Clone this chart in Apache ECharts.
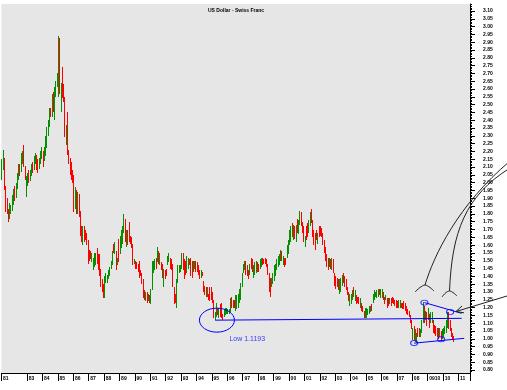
<!DOCTYPE html>
<html><head><meta charset="utf-8">
<script src="https://cdn.jsdelivr.net/npm/echarts@6/dist/echarts.min.js"></script>
<style>html,body{margin:0;padding:0;background:#fff}#c{width:507px;height:390px}</style>
</head><body><div id="c"></div>
<script>
// ---- monthly bars, May 1981 .. Sep 2010 ----
const lows = [
/*1981*/ 2.02,2.08,1.95,1.81,1.80,1.75,1.77,1.80,
/*1982*/ 1.82,1.86,1.88,1.90,1.96,2.02,2.04,2.07,2.12,2.10,2.02,1.91,
/*1983*/ 1.98,2.00,2.01,2.04,2.06,2.08,2.12,2.08,2.06,2.09,2.12,2.15,
/*1984*/ 2.10,2.14,2.17,2.22,2.30,2.36,2.42,2.42,2.45,2.40,2.55,2.61,
/*1985*/ 2.55,2.57,2.45,2.54,2.52,2.29,2.24,2.18,2.12,2.05,2.02,2.00,
/*1986*/ 1.81,1.83,1.80,1.80,1.78,1.66,1.62,1.60,1.62,1.63,1.60,1.48,
/*1987*/ 1.50,1.51,1.49,1.44,1.46,1.47,1.48,1.44,1.40,1.33,1.30,1.26,
/*1988*/ 1.26,1.36,1.36,1.38,1.40,1.45,1.47,1.55,1.54,1.44,1.47,1.49,
/*1989*/ 1.54,1.58,1.61,1.68,1.62,1.59,1.60,1.62,1.61,1.58,1.47,1.48,
/*1990*/ 1.45,1.45,1.43,1.39,1.40,1.35,1.26,1.25,1.24,1.23,1.24,1.23,
/*1991*/ 1.22,1.31,1.42,1.44,1.45,1.49,1.48,1.47,1.44,1.39,1.33,1.38,
/*1992*/ 1.40,1.47,1.49,1.45,1.44,1.33,1.22,1.23,1.20,1.36,1.42,1.43,
/*1993*/ 1.45,1.44,1.38,1.41,1.42,1.45,1.47,1.40,1.39,1.43,1.45,1.43,
/*1994*/ 1.43,1.41,1.38,1.39,1.40,1.30,1.28,1.27,1.27,1.25,1.24,1.25,
/*1995*/ 1.23,1.13,1.1193,1.14,1.15,1.13,1.14,1.13,1.12,1.14,1.15,1.16,
/*1996*/ 1.16,1.16,1.17,1.20,1.20,1.20,1.18,1.19,1.20,1.23,1.25,1.33,
/*1997*/ 1.42,1.44,1.41,1.40,1.38,1.41,1.45,1.43,1.39,1.41,1.42,1.43,
/*1998*/ 1.43,1.45,1.46,1.47,1.48,1.48,1.46,1.41,1.30,1.27,1.33,1.35,
/*1999*/ 1.37,1.40,1.44,1.46,1.47,1.50,1.50,1.47,1.46,1.47,1.52,1.54,
/*2000*/ 1.60,1.62,1.65,1.63,1.64,1.62,1.68,1.67,1.73,1.72,1.68,1.62,
/*2001*/ 1.59,1.63,1.65,1.68,1.72,1.74,1.65,1.60,1.57,1.63,1.61,1.65,
/*2002*/ 1.66,1.65,1.60,1.55,1.50,1.46,1.44,1.46,1.45,1.44,1.42,1.34,
/*2003*/ 1.32,1.33,1.31,1.29,1.30,1.34,1.36,1.33,1.31,1.28,1.24,1.21,
/*2004*/ 1.22,1.25,1.27,1.24,1.22,1.23,1.22,1.20,1.18,1.17,1.13,1.13,
/*2005*/ 1.13,1.15,1.16,1.17,1.18,1.23,1.25,1.27,1.26,1.27,1.28,1.26,
/*2006*/ 1.26,1.25,1.22,1.25,1.20,1.21,1.22,1.21,1.23,1.22,1.21,1.20,
/*2007*/ 1.20,1.20,1.20,1.20,1.19,1.19,1.18,1.16,1.15,1.14,1.10,1.06,
/*2008*/ 0.99,0.99,0.98,0.97,1.01,1.01,1.01,1.04,1.10,1.10,1.12,1.08,
/*2009*/ 1.12,1.07,1.10,1.10,1.04,1.03,1.02,1.01,1.00,1.01,0.99,1.00,
/*2010*/ 1.01,1.03,1.04,1.07,1.06,1.05,1.01,0.99,0.98
];
const highs = [
/*1981*/ 2.15,2.21,2.16,1.98,1.90,1.83,1.87,1.86,
/*1982*/ 1.92,1.96,1.98,2.00,2.06,2.12,2.12,2.19,2.20,2.24,2.11,2.04,
/*1983*/ 2.06,2.08,2.08,2.12,2.13,2.17,2.19,2.18,2.15,2.16,2.20,2.23,
/*1984*/ 2.20,2.23,2.30,2.36,2.40,2.48,2.48,2.57,2.58,2.61,2.65,2.70,
/*1985*/ 2.94,2.93,2.64,2.74,2.63,2.55,2.37,2.45,2.21,2.16,2.13,2.08,
/*1986*/ 2.05,1.97,1.95,1.94,1.93,1.82,1.72,1.72,1.72,1.70,1.68,1.63,
/*1987*/ 1.57,1.56,1.55,1.52,1.55,1.55,1.58,1.54,1.54,1.45,1.38,1.35,
/*1988*/ 1.40,1.42,1.41,1.44,1.46,1.50,1.56,1.61,1.62,1.56,1.52,1.64,
/*1989*/ 1.66,1.70,1.72,1.80,1.77,1.70,1.70,1.75,1.66,1.65,1.61,1.51,
/*1990*/ 1.50,1.49,1.48,1.50,1.44,1.42,1.38,1.31,1.30,1.30,1.29,1.28,
/*1991*/ 1.32,1.50,1.50,1.51,1.52,1.59,1.56,1.55,1.49,1.48,1.45,1.44,
/*1992*/ 1.45,1.53,1.55,1.52,1.51,1.48,1.33,1.29,1.38,1.47,1.47,1.47,
/*1993*/ 1.55,1.55,1.51,1.50,1.53,1.52,1.51,1.52,1.50,1.50,1.50,1.50,
/*1994*/ 1.49,1.47,1.44,1.44,1.43,1.37,1.34,1.33,1.33,1.29,1.33,1.33,
/*1995*/ 1.30,1.25,1.17,1.23,1.20,1.20,1.22,1.23,1.16,1.19,1.20,1.20,
/*1996*/ 1.19,1.19,1.26,1.27,1.25,1.25,1.28,1.28,1.29,1.32,1.36,1.42,
/*1997*/ 1.48,1.50,1.50,1.47,1.44,1.48,1.52,1.51,1.47,1.49,1.50,1.49,
/*1998*/ 1.48,1.51,1.52,1.52,1.51,1.52,1.51,1.48,1.42,1.39,1.39,1.42,
/*1999*/ 1.47,1.48,1.51,1.53,1.54,1.57,1.56,1.53,1.52,1.52,1.60,1.63,
/*2000*/ 1.70,1.72,1.74,1.73,1.72,1.73,1.77,1.76,1.82,1.81,1.75,1.72,
/*2001*/ 1.66,1.72,1.74,1.76,1.81,1.83,1.76,1.70,1.68,1.70,1.68,1.72,
/*2002*/ 1.72,1.71,1.68,1.63,1.59,1.54,1.52,1.52,1.51,1.52,1.51,1.42,
/*2003*/ 1.40,1.39,1.38,1.38,1.39,1.41,1.42,1.40,1.38,1.33,1.30,1.29,
/*2004*/ 1.29,1.31,1.33,1.31,1.28,1.27,1.27,1.26,1.23,1.21,1.18,1.20,
/*2005*/ 1.20,1.19,1.21,1.21,1.22,1.29,1.31,1.30,1.31,1.32,1.32,1.32,
/*2006*/ 1.32,1.30,1.27,1.28,1.26,1.26,1.26,1.26,1.27,1.26,1.25,1.25,
/*2007*/ 1.24,1.25,1.25,1.23,1.23,1.24,1.23,1.21,1.19,1.18,1.15,1.12,
/*2008*/ 1.07,1.08,1.06,1.04,1.07,1.07,1.06,1.12,1.235,1.21,1.18,1.17,
/*2009*/ 1.20,1.16,1.17,1.17,1.12,1.09,1.08,1.07,1.07,1.07,1.05,1.06,
/*2010*/ 1.07,1.08,1.12,1.17,1.17,1.12,1.07,1.04,1.02
];
// g = closed up (green), r = closed down (red), one letter per month
const directions = [
 'ggrrrrgg','ggrgggrggrrg','grggrggrrggg','rgggggrgrggg','grgrrrgrrrrr',
 'rgrgrrrgrrrr','rrggggrrrrrr','gggggggrgrgr','ggggrgrrrrrg','rrrrrrrrgrgr',
 'ggggrgrgrrgr','rggrrrrrgggg','grrrggrrrggr','rrrgrrrrgrrr','rrggrgrrrggg',
 'gggrrrgggggg','ggrrrgrrgggr','rggrrrrrrrgg','ggggggrgrrgg','ggrgrgrggrrr',
 'grrggrrrrrgr','rrrrrrrgrgrr','rrrgggrrrrrg','ggrgrrrgrrrg','ggggrgggggrg',
 'grrgrrgrrrrr','rggrrrrrrrrr','grggrrgggrgr','grggrrrrrgrg','ggggrrrrr'
].join('');

// ---- axis labels ----
const yearLabelMonths = ['1981-05','1983-01','1984-01','1985-01','1986-01','1987-01','1988-01','1989-01','1990-01',
  '1991-01','1992-01','1993-01','1994-01','1995-01','1996-01','1997-01','1998-01','1999-01','2000-01','2001-01',
  '2002-01','2003-01','2004-01','2005-01','2006-01','2007-01','2008-01','2009-01','2010-01','2011-01'];
const yearLabels = ['81','83','84','85','86','87','88','89','90','91','92','93','94','95','96','97','98','99',
  '00','01','02','03','04','05','06','07','08','0910','10','11'];
const yTickLabels = ['0.80','0.85','0.90','0.95','1.00','1.05','1.10','1.15','1.20','1.25','1.30','1.35','1.40',
  '1.45','1.50','1.55','1.60','1.65','1.70','1.75','1.80','1.85','1.90','1.95','2.00','2.05','2.10','2.15','2.20',
  '2.25','2.30','2.35','2.40','2.45','2.50','2.55','2.60','2.65','2.70','2.75','2.80','2.85','2.90','2.95','3.00',
  '3.05','3.10'];

// ---- annotations (drawn in data coordinates) ----
const supportLine = [['1995-03', 1.1193], ['2011-03', 1.131]];
const upperLine = [['2008-10', 1.232], ['2011-03', 1.163]];
const lowerLine = [['2008-02', 0.972], ['2011-05', 1.003]];
const pivotPoints = [['2008-10', 1.232], ['2010-06', 1.172], ['2008-02', 0.973], ['2009-11', 0.997]];
const lowNote = { month: '1995-04', value: 1.1193, text: 'Low 1.1193' };

// ---- build ----
const months = [];
for (let y = 1981; y <= 2011; y++) for (let m = 1; m <= 12; m++) {
  if (y === 1981 && m < 5) continue;
  if (y === 2011 && m > 9) continue;
  months.push(y + '-' + (m < 10 ? '0' : '') + m);
}
const labelMap = new Map(yearLabelMonths.map((m, i) => [m, yearLabels[i]]));
const barData = lows.map((l, i) => [i, l, highs[i], directions[i] === 'g' ? 1 : 0]);
const majorVals = yTickLabels.map(Number);
const minorVals = [];
for (let k = 79; k <= 314; k++) minorVals.push(k / 100);

const GREEN = '#009000', RED = '#ff0000', BLUE = '#0000ff', INK = '#000';
const Y_MIN = 0.7808, Y_MAX = 3.1448;
const FONT = 'Liberation Sans';

// high-low bar, snapped to whole pixels like the original screen chart
function renderBar(params, api) {
  const top = api.coord([api.value(0), api.value(2)]);
  const bot = api.coord([api.value(0), api.value(1)]);
  const x = Math.floor(top[0]);
  const y0 = Math.round(top[1]);
  const y1 = Math.round(bot[1]);
  return { type: 'rect', shape: { x: x, y: y0, width: 1, height: Math.max(1, y1 - y0) },
    style: { fill: api.value(3) ? GREEN : RED } };
}

const chart = echarts.init(document.getElementById('c'), null, { renderer: 'canvas' });
chart.setOption({
  animation: false,
  backgroundColor: '#ffffff',
  title: { text: 'US Dollar - Swiss Franc', left: 208, top: 8, padding: 0,
    textStyle: { fontSize: 5, fontWeight: 'bold', color: INK, fontFamily: FONT } },
  grid: { left: 0, right: 37, top: 4, bottom: 17, show: true, backgroundColor: '#e6e6e6', borderWidth: 0 },
  xAxis: {
    type: 'category', data: months, boundaryGap: true,
    axisLine: { lineStyle: { color: INK, width: 1 } },
    axisTick: { show: true, length: 8, interval: (i, v) => labelMap.has(v), lineStyle: { color: INK } },
    axisLabel: { interval: (i, v) => labelMap.has(v), formatter: v => labelMap.get(v) || '',
      fontSize: 5, color: INK, align: 'left', margin: 3, padding: [0, 0, 0, 1], fontFamily: FONT, fontWeight: 'bold' },
    splitLine: { show: false }
  },
  yAxis: [
    { type: 'value', position: 'right', min: Y_MIN, max: Y_MAX,
      axisLine: { show: true, lineStyle: { color: INK } },
      axisTick: { show: true, length: 5, customValues: majorVals, lineStyle: { color: INK } },
      axisLabel: { customValues: majorVals, formatter: v => v.toFixed(2), fontSize: 5, color: INK, margin: 13,
        fontFamily: FONT, fontWeight: 'bold' },
      splitLine: { show: false } },
    { type: 'value', position: 'right', min: Y_MIN, max: Y_MAX,
      axisLine: { show: false },
      axisTick: { show: true, length: 2, customValues: minorVals, lineStyle: { color: INK } },
      axisLabel: { show: false }, splitLine: { show: false } }
  ],
  series: [
    { type: 'custom', data: barData, encode: { x: 0, y: [1, 2] }, renderItem: renderBar, clip: true, z: 3 },
    { type: 'line', data: supportLine, symbol: 'none', lineStyle: { color: BLUE, width: 1 }, z: 5 },
    { type: 'line', data: upperLine, symbol: 'none', lineStyle: { color: BLUE, width: 1 }, z: 5 },
    { type: 'line', data: lowerLine, symbol: 'none', lineStyle: { color: BLUE, width: 1 }, z: 5 },
    { type: 'scatter', data: pivotPoints, symbol: 'circle', symbolSize: [7, 5],
      itemStyle: { color: 'rgba(0,0,0,0)', borderColor: BLUE, borderWidth: 1 }, z: 6 }
  ]
});

// hand-drawn callouts, anchored to the low of 1995
const p = chart.convertToPixel({ gridIndex: 0 }, [months.indexOf(lowNote.month), lowNote.value]);
const CALL = '#222';
chart.setOption({
  graphic: [
    { type: 'ellipse', z: 100, shape: { cx: p[0] + 0.5, cy: p[1], rx: 17.5, ry: 12 },
      style: { fill: 'none', stroke: BLUE, lineWidth: 1 } },
    { type: 'text', z: 100, x: p[0] + 13, y: p[1] + 19,
      style: { text: lowNote.text, fill: '#3a3aff', font: '7px "Liberation Sans"', textVerticalAlign: 'middle' } },
    { type: 'bezierCurve', z: 100, shape: { x1: 425, y1: 285, cpx1: 434, cpy1: 255, cpx2: 458, cpy2: 205, x2: 510, y2: 161 },
      style: { stroke: CALL, lineWidth: 1, fill: 'none' } },
    { type: 'bezierCurve', z: 100, shape: { x1: 449.5, y1: 291, cpx1: 452, cpy1: 232, cpx2: 465, cpy2: 196, x2: 510, y2: 168 },
      style: { stroke: CALL, lineWidth: 1, fill: 'none' } },
    { type: 'polyline', z: 100, shape: { points: [[415, 292], [420, 287.5], [425, 285], [430, 287.5], [434, 291]], smooth: 0.3 },
      style: { stroke: CALL, lineWidth: 1, fill: 'none' } },
    { type: 'polyline', z: 100, shape: { points: [[442, 297], [446, 292.5], [449.5, 291], [453, 292.5], [457, 296]], smooth: 0.3 },
      style: { stroke: CALL, lineWidth: 1, fill: 'none' } },
    { type: 'line', z: 100, shape: { x1: 507, y1: 296, x2: 456, y2: 311.5 }, style: { stroke: CALL, lineWidth: 1 } },
    { type: 'polyline', z: 100, shape: { points: [[462, 306], [456, 311.5], [464, 312.8]] },
      style: { stroke: CALL, lineWidth: 1, fill: 'none' } }
  ]
});
</script></body></html>
